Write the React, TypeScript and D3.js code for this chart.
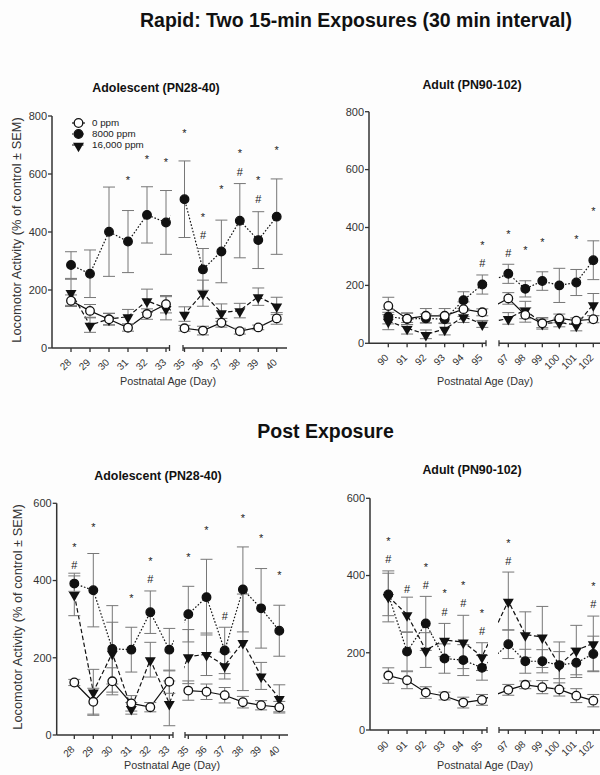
import * as d3 from "d3";

const FONT = "'Liberation Sans', Arial, Helvetica, sans-serif";

// x categories (day 34 / 96 are skipped by the axis break)
const adolDays = [28, 29, 30, 31, 32, 33, 35, 36, 37, 38, 39, 40];
const adultDays = [90, 91, 92, 93, 94, 95, 97, 98, 99, 100, 101, 102];
const rapidTicks = [0, 200, 400, 600, 800];
const postTicks = [0, 200, 400, 600];
const doseLabels = ["0 ppm", "8000 ppm", "16,000 ppm"];

// Rapid, adolescent
const rapAdol0 = [163, 128, 99, 70, 117, 151, 68, 60, 87, 58, 71, 102];
const rapAdol0Sem = [20, 22, 20, 12, 18, 30, 10, 15, 15, 10, 8, 20];
const rapAdol8k = [286, 256, 401, 367, 459, 433, 513, 271, 333, 439, 372, 453];
const rapAdol8kSem = [46, 82, 154, 107, 97, 110, 132, 72, 108, 128, 98, 130];
const rapAdol16k = [192, 79, 100, 108, 163, 137, 117, 189, 122, 129, 177, 145];
const rapAdol16kSem = [45, 25, 20, 25, 40, 40, 25, 45, 30, 25, 30, 30];
const rapAdolMarks: [number, string, number][] = [
  [31, "*", 586], [32, "*", 661], [33, "*", 650], [35, "*", 750],
  [36, "*", 459], [36, "#", 388], [37, "*", 555], [38, "*", 679],
  [38, "#", 608], [39, "*", 586], [39, "#", 514], [40, "*", 692],
];

// Rapid, adult
const rapAdult0 = [129, 85, 95, 95, 118, 107, 155, 98, 69, 86, 78, 83];
const rapAdult0Sem = [30, 20, 25, 25, 25, 12, 20, 25, 20, 15, 10, 12];
const rapAdult8k = [92, 84, 86, 83, 149, 203, 240, 188, 215, 200, 210, 287];
const rapAdult8kSem = [25, 20, 15, 15, 29, 33, 33, 28, 32, 59, 45, 67];
const rapAdult16k = [77, 52, 31, 49, 92, 67, 86, 115, 69, 72, 63, 134];
const rapAdult16kSem = [30, 20, 15, 20, 20, 12, 20, 30, 15, 15, 20, 38];
const rapAdultMarks: [number, string, number][] = [
  [95, "*", 348], [95, "#", 276], [97, "*", 385], [97, "#", 312],
  [98, "*", 331], [99, "*", 359], [101, "*", 368], [102, "*", 466],
];

// Post exposure, adolescent
const postAdol0 = [136, 86, 139, 82, 72, 138, 115, 112, 103, 85, 77, 72];
const postAdol0Sem = [8, 35, 35, 20, 12, 30, 25, 20, 20, 15, 12, 15];
const postAdol8k = [392, 375, 223, 221, 318, 221, 313, 357, 219, 377, 328, 270];
const postAdol8kSem = [20, 95, 112, 58, 55, 55, 72, 98, 60, 110, 103, 66];
const postAdol16k = [364, 112, 212, 69, 195, 82, 203, 209, 180, 240, 153, 95];
const postAdol16kSem = [55, 58, 80, 15, 45, 58, 70, 55, 35, 125, 35, 35];
const postAdolMarks: [number, string, number][] = [
  [28, "*", 494], [28, "#", 439], [29, "*", 544], [31, "*", 362],
  [32, "*", 456], [32, "#", 403], [35, "*", 468], [36, "*", 538],
  [37, "#", 309], [38, "*", 569], [39, "*", 516], [40, "*", 421],
];

// Post exposure, adult
const postAdult0 = [141, 129, 97, 88, 71, 78, 104, 117, 111, 105, 89, 76];
const postAdult0Sem = [20, 22, 15, 10, 14, 14, 14, 10, 17, 17, 18, 16];
const postAdult8k = [351, 203, 276, 185, 181, 161, 222, 178, 178, 168, 174, 197];
const postAdult8kSem = [55, 50, 70, 38, 40, 32, 37, 31, 30, 35, 38, 46];
const postAdult16k = [346, 299, 207, 233, 228, 190, 334, 247, 241, 168, 207, 224];
const postAdult16kSem = [66, 45, 45, 43, 69, 36, 75, 59, 79, 60, 64, 71];
const postAdultMarks: [number, string, number][] = [
  [90, "*", 495], [90, "#", 442], [91, "#", 366], [92, "*", 428],
  [92, "#", 375], [93, "*", 360], [93, "#", 306], [94, "*", 381],
  [94, "#", 329], [95, "*", 310], [95, "#", 257], [97, "*", 491],
  [97, "#", 437], [102, "*", 379], [102, "#", 326],
];

// line / marker look per dose, same order as doseLabels
const STYLES = [
  { dash: "none", marker: "open" },
  { dash: "1.6 1.8", marker: "dot" },
  { dash: "4.5 2.5", marker: "tri" },
];

type Layout = {
  id: string;
  axisX: number; y0: number; yTop: number; yMax: number; ticks: number[];
  seg1: [number, number]; seg2: [number, number]; gap: [number, number]; axisEnd: number;
  title: string; titleX: number; titleY: number;
  xTitleX: number; xTitleY: number;
  yTitle?: [number, number];
  legend?: boolean;
};

const triPath = d3.symbol(d3.symbolTriangle, 52)()!;

function Marker({ kind, x, y }: { kind: string; x: number; y: number }) {
  if (kind === "tri")
    return <path d={triPath} transform={`translate(${x},${y + 0.8}) rotate(180)`} fill="#111" />;
  return (
    <circle cx={x} cy={y} r={4.3} fill={kind === "open" ? "#fff" : "#111"} stroke="#111" strokeWidth={1.3} />
  );
}

function scales(cfg: Layout, days: number[]) {
  const y = d3.scaleLinear().domain([0, cfg.yMax]).range([cfg.y0, cfg.yTop]);
  const s1 = d3.scaleLinear().domain([days[0], days[5]]).range(cfg.seg1);
  const s2 = d3.scaleLinear().domain([days[6], days[11]]).range(cfg.seg2);
  const x = (d: number) => (d <= days[5] ? s1(d) : s2(d));
  return { x, y };
}

function Panel({ cfg, days, series }: { cfg: Layout; days: number[]; series: [number[], number[]][] }) {
  const { x, y } = scales(cfg, days);
  const line = d3.line<number>().x((_, i) => x(days[i])).y((v) => y(v));
  const axisCol = "#333";
  const [g0, g1] = cfg.gap;

  return (
    <g fontFamily={FONT}>
      <defs>
        <clipPath id={`clip-${cfg.id}`}>
          <rect x={0} y={0} width={g0 + 1} height={775} />
          <rect x={g1 - 1} y={0} width={600} height={775} />
        </clipPath>
      </defs>

      <text x={cfg.titleX} y={cfg.titleY} textAnchor="middle" fontWeight="bold" fontSize={12.4} fill="#111">
        {cfg.title}
      </text>

      {/* y axis */}
      <line x1={cfg.axisX} x2={cfg.axisX} y1={cfg.y0} y2={cfg.yTop} stroke={axisCol} strokeWidth={1.5} />
      {cfg.ticks.map((t) => (
        <g key={t}>
          <line x1={cfg.axisX - 4} x2={cfg.axisX} y1={y(t)} y2={y(t)} stroke={axisCol} strokeWidth={1.3} />
          <text x={cfg.axisX - 5} y={y(t)} dy="0.35em" textAnchor="end" fontSize={11} fill="#333">
            {t}
          </text>
        </g>
      ))}
      {cfg.yTitle && (
        <text
          transform={`translate(${cfg.yTitle[0]},${cfg.yTitle[1]}) rotate(-90)`}
          textAnchor="middle"
          fontSize={12.8}
          fill="#333"
          dy="0.35em"
        >
          Locomotor Activity (% of control ± SEM)
        </text>
      )}

      {/* broken x axis */}
      <line x1={cfg.axisX} x2={g0} y1={cfg.y0} y2={cfg.y0} stroke={axisCol} strokeWidth={1.5} />
      <line x1={g1} x2={cfg.axisEnd} y1={cfg.y0} y2={cfg.y0} stroke={axisCol} strokeWidth={1.5} />
      {[g0, g1].map((gx) => (
        <line key={gx} x1={gx} x2={gx} y1={cfg.y0 - 3} y2={cfg.y0 + 3} stroke={axisCol} strokeWidth={1.3} />
      ))}
      {days.map((d) => (
        <g key={d}>
          <line x1={x(d)} x2={x(d)} y1={cfg.y0} y2={cfg.y0 + 4} stroke={axisCol} strokeWidth={1.3} />
          <text
            transform={`translate(${x(d) - 4},${cfg.y0 + 10}) rotate(-45)`}
            textAnchor="end"
            dy="0.7em"
            fontSize={10}
            fill="#333"
          >
            {d}
          </text>
        </g>
      ))}
      <text x={cfg.xTitleX} y={cfg.xTitleY} textAnchor="middle" fontSize={10.8} fill="#333">
        Postnatal Age (Day)
      </text>

      {/* connecting lines, clipped at the break */}
      <g clipPath={`url(#clip-${cfg.id})`}>
        {series.map(([vals], i) => (
          <path
            key={i}
            d={line(vals)!}
            fill="none"
            stroke="#111"
            strokeWidth={1.2}
            strokeDasharray={STYLES[i].dash}
          />
        ))}
      </g>

      {/* SEM bars */}
      {series.map(([vals, sem], i) =>
        vals.map((v, j) => {
          const cx = x(days[j]);
          const top = y(v + sem[j]);
          const bot = y(Math.max(0, v - sem[j]));
          return (
            <g key={`${i}-${j}`} stroke="#777" strokeWidth={1}>
              <line x1={cx} x2={cx} y1={top} y2={bot} />
              <line x1={cx - 6} x2={cx + 6} y1={top} y2={top} />
              <line x1={cx - 6} x2={cx + 6} y1={bot} y2={bot} />
            </g>
          );
        })
      )}

      {/* markers */}
      {[2, 1, 0].map((i) =>
        series[i][0].map((v, j) => <Marker key={`${i}-${j}`} kind={STYLES[i].marker} x={x(days[j])} y={y(v)} />)
      )}

      {cfg.legend &&
        doseLabels.map((lab, i) => {
          const ly = cfg.yTop + 7 + i * 11;
          const lx = cfg.axisX + 20;
          return (
            <g key={lab}>
              <line x1={lx} x2={lx + 13} y1={ly} y2={ly} stroke="#111" strokeWidth={1.2} strokeDasharray={STYLES[i].dash} />
              <Marker kind={STYLES[i].marker} x={lx + 6.5} y={ly} />
              <text x={lx + 20} y={ly} dy="0.35em" fontSize={9.8} fill="#222">
                {lab}
              </text>
            </g>
          );
        })}
    </g>
  );
}

function Marks({ cfg, days, marks }: { cfg: Layout; days: number[]; marks: [number, string, number][] }) {
  const { x, y } = scales(cfg, days);
  return (
    <g fontFamily={FONT} fill="#222" fontSize={11} textAnchor="middle">
      {marks.map(([d, s, v], i) => (
        <text key={i} x={x(d)} y={y(v) + (s === "*" ? 6.4 : 4)}>
          {s}
        </text>
      ))}
    </g>
  );
}

const TL: Layout = {
  id: "tl", axisX: 52, y0: 348, yTop: 116, yMax: 800, ticks: rapidTicks,
  seg1: [71, 166], seg2: [184.5, 276.7], gap: [169.5, 183], axisEnd: 287,
  title: "Adolescent (PN28-40)", titleX: 156, titleY: 91.5,
  xTitleX: 168, xTitleY: 385, yTitle: [17, 230], legend: true,
};
const TR: Layout = {
  id: "tr", axisX: 369, y0: 343.3, yTop: 111.7, yMax: 800, ticks: rapidTicks,
  seg1: [388.3, 482.3], seg2: [508.3, 593.3], gap: [486, 499], axisEnd: 606,
  title: "Adult (PN90-102)", titleX: 472, titleY: 89,
  xTitleX: 485, xTitleY: 385,
};
const BL: Layout = {
  id: "bl", axisX: 56.7, y0: 735, yTop: 503.3, yMax: 600, ticks: postTicks,
  seg1: [74.3, 169.3], seg2: [188.3, 279.3], gap: [173, 185], axisEnd: 288,
  title: "Adolescent (PN28-40)", titleX: 158, titleY: 479.5,
  xTitleX: 172, xTitleY: 769, yTitle: [18, 617],
};
const BR: Layout = {
  id: "br", axisX: 370, y0: 730, yTop: 498.3, yMax: 600, ticks: postTicks,
  seg1: [388.3, 482], seg2: [508.3, 593.3], gap: [487, 499], axisEnd: 606,
  title: "Adult (PN90-102)", titleX: 472, titleY: 473.5,
  xTitleX: 485, xTitleY: 769,
};

export default function App() {
  return (
    <svg
      width={600}
      height={775}
      style={{ position: "absolute", left: 0, top: 0, display: "block" }}
    >
      <rect width={600} height={775} fill="#fdfdfd" />
      <text x={356} y={27} textAnchor="middle" fontFamily={FONT} fontWeight="bold" fontSize={19.5} fill="#111">
        Rapid: Two 15-min Exposures (30 min interval)
      </text>
      <text x={325.5} y={438} textAnchor="middle" fontFamily={FONT} fontWeight="bold" fontSize={19.5} fill="#111">
        Post Exposure
      </text>

      <Panel cfg={TL} days={adolDays} series={[[rapAdol0, rapAdol0Sem], [rapAdol8k, rapAdol8kSem], [rapAdol16k, rapAdol16kSem]]} />
      <Marks cfg={TL} days={adolDays} marks={rapAdolMarks} />

      <Panel cfg={TR} days={adultDays} series={[[rapAdult0, rapAdult0Sem], [rapAdult8k, rapAdult8kSem], [rapAdult16k, rapAdult16kSem]]} />
      <Marks cfg={TR} days={adultDays} marks={rapAdultMarks} />

      <Panel cfg={BL} days={adolDays} series={[[postAdol0, postAdol0Sem], [postAdol8k, postAdol8kSem], [postAdol16k, postAdol16kSem]]} />
      <Marks cfg={BL} days={adolDays} marks={postAdolMarks} />

      <Panel cfg={BR} days={adultDays} series={[[postAdult0, postAdult0Sem], [postAdult8k, postAdult8kSem], [postAdult16k, postAdult16kSem]]} />
      <Marks cfg={BR} days={adultDays} marks={postAdultMarks} />
    </svg>
  );
}
